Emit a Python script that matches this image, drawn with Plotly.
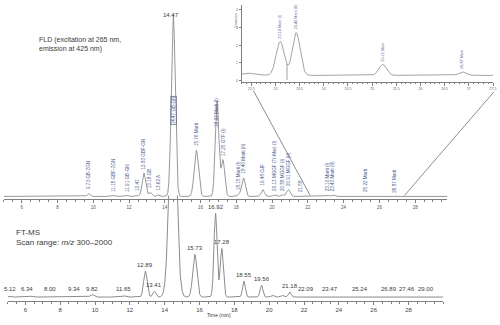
import numpy as np
import plotly.graph_objects as go

# ---------------- data ----------------
# FLD chromatogram (top) : retention time (min), peak height, peak width (sigma, min), label
fld_rt = [9.73, 11.15, 11.91, 12.47, 12.83, 13.18, 13.62, 14.47, 15.76, 16.92, 17.25,
          18.15, 18.40, 19.48, 20.13, 20.58, 20.91, 21.58, 23.10, 23.43, 25.22, 26.87]
fld_height = [4.8, 1.6, 1.6, 1.6, 38, 6.4, 2.4, 295, 75, 155, 59,
              3.2, 30, 11, 2.4, 2.4, 11, 1.2, 1.92, 2.42, 0.62, 0.2]
fld_sigma = [0.07, 0.07, 0.07, 0.06, 0.1, 0.08, 0.07, 0.11, 0.12, 0.1, 0.1,
             0.08, 0.1, 0.09, 0.08, 0.08, 0.1, 0.08, 0.085, 0.08, 0.08, 0.08]
fld_labels = ["9.73 GB-ZGN", "11.15 GBF-ZGN", "11.91 GB-GN", "12.47", "12.83 GBF-GN",
              "13.18 GB", "13.62 A", "14.47 GB-GN", "15.76 Marti", "16.92 Marti (I)",
              "17.25 GTF (I)", "18.15 Marti (I)", "18.40 Marti (II)", "19.48 GJF",
              "20.13 MGGF (Tr-Mar) (I)", "20.58 MGGF (I)", "20.91 MGGF (II)", "21.58",
              "23.10 Marti (I)", "23.43 Marti (II)", "25.22 Marti", "26.87 Marti"]
fld_baseline = 0.3
fld_minor_rt = [22.45]
fld_minor_height = [0.12]
fld_minor_sigma = [0.15]

# FT-MS chromatogram (bottom)
ms_rt = [5.12, 6.34, 8.00, 9.34, 9.82, 11.65, 12.89, 13.41, 14.47, 15.73, 16.92, 17.28,
         18.55, 19.56, 21.18, 22.09, 23.47, 25.24, 26.89, 27.46, 29.00]
ms_height = [1.0, 1.0, 0.6, 0.6, 3.0, 1.5, 31, 7, 250, 51, 100, 58,
             19, 14, 6, 0.8, 0.8, 0.6, 0.6, 0.6, 0.6]
ms_sigma = [0.08, 0.1, 0.1, 0.1, 0.1, 0.1, 0.1, 0.09, 0.2, 0.12, 0.09, 0.09,
            0.08, 0.08, 0.08, 0.1, 0.1, 0.1, 0.1, 0.1, 0.1]
ms_minor_rt = [20.2, 20.75]
ms_minor_height = [2.0, 2.0]
ms_minor_sigma = [0.08, 0.08]

inset_range = [22.3, 27.5]

# ---------------- helpers ----------------
def chrom(t, rts, hs, ss, base=0.0):
    y = np.full_like(t, base, dtype=float)
    for r, h, s in zip(rts, hs, ss):
        y += h * np.exp(-0.5 * ((t - r) / s) ** 2)
    return y

t = np.linspace(5.0, 30.0, 5001)
fld = chrom(t, fld_rt + fld_minor_rt, fld_height + fld_minor_height,
            fld_sigma + fld_minor_sigma, fld_baseline)
ms = chrom(t, ms_rt + ms_minor_rt, ms_height + ms_minor_height, ms_sigma + ms_minor_sigma)

ti = np.linspace(inset_range[0], inset_range[1], 2001)
fld_i = chrom(ti, fld_rt + fld_minor_rt, fld_height + fld_minor_height,
              fld_sigma + fld_minor_sigma, fld_baseline)

W, H = 500, 325
def py(px):  # pixel y -> paper y
    return 1 - px / H
def pxx(px):
    return px / W

LINE = "#8c8c8c"
AX = "#808080"
LBL_BLUE = "#4d5b8f"
TXT = "#3a3a3a"
FONT = "Liberation Sans"

fig = go.Figure()
fig.add_trace(go.Scatter(x=t, y=fld, mode="lines", line=dict(color=LINE, width=0.9),
                         xaxis="x", yaxis="y", hoverinfo="skip"))
fig.add_trace(go.Scatter(x=t, y=ms, mode="lines", line=dict(color=LINE, width=1.0),
                         xaxis="x2", yaxis="y2", hoverinfo="skip"))
fig.add_trace(go.Scatter(x=ti, y=fld_i, mode="lines", line=dict(color=LINE, width=0.8),
                         xaxis="x3", yaxis="y3", hoverinfo="skip"))

ann = []
# top (FLD) vertical labels
special_top = {14.47: 111, 16.92: 113}
for r, h, lab in zip(fld_rt, fld_height, fld_labels):
    if r in special_top:
        a = dict(x=r, xref="x", y=py(special_top[r]), yref="paper", yanchor="middle")
        if r == 14.47:
            a.update(bordercolor=LBL_BLUE, borderwidth=0.6, borderpad=0, bgcolor="rgba(255,255,255,0)")
    else:
        a = dict(x=r, xref="x", y=h + fld_baseline, yref="y", yanchor="bottom", yshift=2)
    a.update(text=lab, textangle=-90, showarrow=False, xanchor="center",
             font=dict(size=4.6, color=LBL_BLUE, family=FONT))
    ann.append(a)

# inset vertical labels
for r, h, lab in zip(fld_rt, fld_height, fld_labels):
    if inset_range[0] <= r <= inset_range[1]:
        ann.append(dict(x=r, xref="x3", y=h + fld_baseline, yref="y3", yanchor="bottom",
                        yshift=1, text=lab, textangle=-90, showarrow=False,
                        font=dict(size=3.8, color=LBL_BLUE, family=FONT)))

# bottom (MS) labels
ms_dx = {6.34: -4, 8.00: -10, 9.34: -10, 27.46: 8}
for r, h in zip(ms_rt, ms_height):
    if r == 14.47:
        ann.append(dict(x=r, xref="x2", y=py(10), yref="paper", text="14.47", showarrow=False,
                        xshift=-2, font=dict(size=6, color=TXT, family=FONT)))
        continue
    ann.append(dict(x=r, xref="x2", y=max(h, 2.5), yref="y2", yanchor="bottom", yshift=1,
                    xshift=ms_dx.get(r, 0), text=f"{r:.2f}", showarrow=False,
                    font=dict(size=6, color=TXT, family=FONT)))

# panel titles
ann.append(dict(x=pxx(37), y=py(45), xref="paper", yref="paper", xanchor="left", yanchor="middle",
                text="FLD (excitation at 265 nm,<br>emission at 425 nm)", align="left",
                showarrow=False, font=dict(size=7, color=TXT, family=FONT)))
ann.append(dict(x=pxx(14), y=py(238), xref="paper", yref="paper", xanchor="left", yanchor="middle",
                text="FT-MS<br>Scan range: <i>m/z</i> 300–2000", align="left",
                showarrow=False, font=dict(size=8, color=TXT, family=FONT)))
ann.append(dict(x=pxx(220), y=py(320.5), xref="paper", yref="paper", text="Time (min)",
                showarrow=False, font=dict(size=5, color=TXT, family=FONT)))
ann.append(dict(x=pxx(237), y=py(12), xref="paper", yref="paper", text="Emission",
                textangle=-90, showarrow=False, font=dict(size=3.5, color="#666", family=FONT)))

# inset drop line at valley and zoom connector lines
valley_t = 23.24
valley_y = float(chrom(np.array([valley_t]), fld_rt + fld_minor_rt, fld_height + fld_minor_height,
                       fld_sigma + fld_minor_sigma, fld_baseline)[0])
shapes = [
    dict(type="line", xref="x3", yref="y3", x0=valley_t, x1=valley_t, y0=0.05, y1=valley_y,
         line=dict(color="#777", width=0.7)),
    dict(type="line", xref="paper", yref="paper", x0=pxx(255), y0=py(91), x1=pxx(312), y1=py(196),
         line=dict(color="#707070", width=0.8)),
    dict(type="line", xref="paper", yref="paper", x0=pxx(497), y0=py(92), x1=pxx(407), y1=py(196),
         line=dict(color="#707070", width=0.8)),
]

common_x = dict(showgrid=False, zeroline=False, showline=True, linecolor=AX, linewidth=0.8,
                ticks="outside", tickcolor=AX, ticklen=3, tickwidth=0.7)
fig.update_layout(
    width=W, height=H, margin=dict(l=0, r=0, t=0, b=0),
    paper_bgcolor="white", plot_bgcolor="rgba(0,0,0,0)", showlegend=False,
    xaxis=dict(domain=[pxx(4), pxx(450)], range=[5.0, 29.8], anchor="y",
               tickvals=list(range(6, 30, 2)), tickfont=dict(size=4.5, color="#555", family=FONT),
               minor=dict(dtick=0.5, ticklen=1.5, tickcolor=AX, ticks="outside"), **common_x),
    yaxis=dict(domain=[py(200), py(10)], range=[-4.5, 303], anchor="x", visible=False),
    xaxis2=dict(domain=[pxx(8), pxx(446)], range=[5.0, 30.0], anchor="y2",
                tickvals=list(range(6, 30, 2)), tickfont=dict(size=6, color="#444", family=FONT),
                minor=dict(dtick=0.5, ticklen=2, tickcolor=AX, ticks="outside"), **common_x),
    yaxis2=dict(domain=[py(302), py(196)], range=[-4.8, 121.4], anchor="x2", visible=False),
    xaxis3=dict(domain=[pxx(243), pxx(496)], range=inset_range, anchor="y3",
                tickvals=[22.5 + 0.5 * k for k in range(11)],
                tickfont=dict(size=3.5, color="#666", family=FONT),
                minor=dict(dtick=0.1, ticklen=1.5, tickcolor=AX, ticks="outside"), **common_x),
    yaxis3=dict(domain=[py(82), py(5)], range=[-0.06, 4.28], anchor="x3",
                showgrid=False, zeroline=False, showline=True, linecolor=AX, linewidth=0.8,
                ticks="outside", ticklen=2, tickcolor=AX, tickvals=[0, 1, 2, 3, 4],
                tickfont=dict(size=3.5, color="#666", family=FONT)),
    annotations=ann, shapes=shapes,
)

fig.write_html("out.html")
